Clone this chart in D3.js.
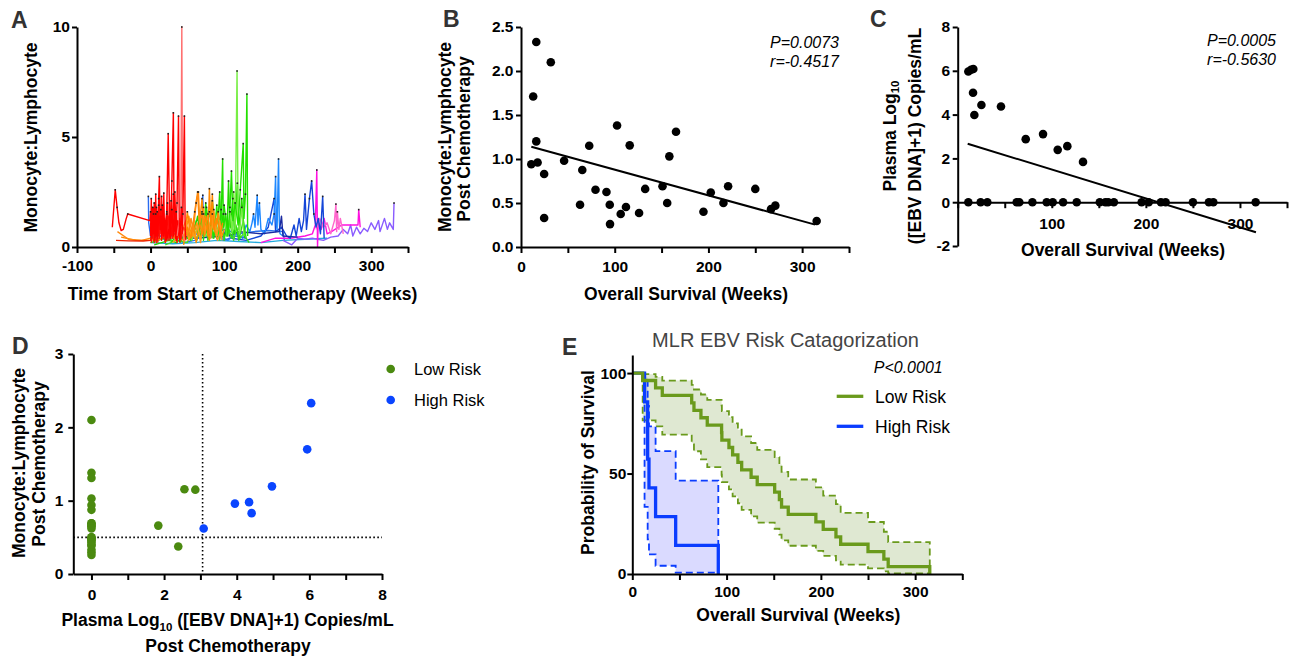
<!DOCTYPE html>
<html><head><meta charset="utf-8">
<script src="https://cdn.jsdelivr.net/npm/d3@7"></script>
<style>
body{margin:0;background:#fff;}
svg{font-family:"Liberation Sans",Arial,sans-serif;}
.ax .tick text{font-weight:bold;font-size:15.5px;fill:#000;}
.ax path.domain,.ax .tick line{stroke:#000;stroke-width:2;}
.ttl{font-weight:bold;font-size:17.5px;fill:#000;}
.lett{font-weight:bold;font-size:23px;fill:#333;}
.ann{font-style:italic;font-size:16px;fill:#000;}
</style></head><body>
<svg id="c" width="1291" height="657"></svg>
<script>
// ---------------- DATA ----------------
// Panel A: per-patient MLR trajectories [week, MLR]
const ptRedPre=[[-52,0.9],[-48,2.6],[-45.5,1.8],[-43,1.1],[-40,0.75],[-37,0.8],[-33,1.3],[-31,1.5],[-1,1.2],[0,1.6],[1,0.8]];
const ptRedLow=[[-47,0.3],[-30,0.28],[-10,0.27],[0,0.3],[3,0.9],[5,0.2],[8,1.3],[10,0.2]];
const ptRedA=[[0,0.5],[1,2.2],[2,0.4],[3,1.8],[4,0.6],[5,2.0],[6,0.3],[7,2.4],[8,0.5],[9,1.6],[10,0.4],[11,2.2],[12,3.2],[13,0.8],[14,1.4],[15,0.3],[16,1.9],[17,0.6],[18,2.45],[19,0.7],[20,1.2],[21,0.3],[22,1.5],[23,0.4]];
const ptRedB=[[0,1.1],[2,0.7],[4,1.5],[6,1.0],[8,1.8],[10,0.9],[12,1.4],[14,0.8],[16,1.1],[18,0.5],[20,0.9],[22,0.3],[25,0.8],[27,0.4],[29,1.7],[31,0.5],[33,2.5],[35,0.3],[37,1.2],[40,0.2]];
const ptRedC=[[18,0.6],[20,1.0],[22,1.6],[24,5.15],[26,1.0],[27,0.4],[29,3.0],[31,6.1],[32,1.0],[34,0.4],[36,2.0],[38,5.95],[39,1.0],[40,0.5],[42,1.8],[43,0.6],[44,1.5],[46,5.95],[47,0.8],[48,0.3]];
const ptRedD=[[1,0.2],[3,1.2],[5,0.5],[7,1.5],[9,0.3],[11,1.9],[13,0.6],[15,2.3],[17,0.4],[19,1.3],[21,0.7],[23,2.0],[25,0.3],[27,1.0],[29,0.5],[31,2.4],[33,0.8],[35,1.6],[37,0.5],[39,0.9],[41,0.3]];
const ptRedE=[[2,0.9],[4,0.3],[6,1.3],[8,0.2],[10,1.0],[12,0.4],[14,1.7],[16,0.5],[18,1.0],[20,0.2],[24,1.4],[26,0.6],[28,2.1],[30,0.4],[34,1.0],[36,0.2],[40,1.3],[42,0.4],[45,0.9]];
const ptSalmon=[[36,0.5],[39,1.2],[41,0.8],[42.5,10],[43.5,0.6],[46,0.3]];
const ptOrangeA=[[-45,0.7],[-30,0.35],[-12,0.3],[0,0.4],[10,0.3],[20,0.5],[30,0.4],[40,0.6],[45,0.9],[50,0.5],[55,1.3],[58,0.7],[62,2.0],[65,2.5],[67,1.1],[70,1.5],[74,0.6]];
const ptOrangeB=[[-40,0.45],[-20,0.3],[0,0.3],[15,0.4],[30,0.6],[45,0.3],[50,0.9],[55,0.4],[60,1.6],[64,2.5],[66,1.2],[70,0.6],[75,1.4],[78,0.5],[80,2.65],[82,1.0],[84,2.4],[86,0.8],[90,1.3],[95,0.6],[98,1.1]];
const ptOrangeC=[[30,0.2],[40,0.5],[48,1.2],[52,0.3],[56,0.8],[60,0.4],[64,1.0],[68,0.2],[72,1.8],[74,0.6],[78,1.5],[82,0.4],[86,1.7],[90,0.5],[94,1.2],[97,0.3]];
const ptOrangeD=[[45,0.1],[50,1.6],[54,0.6],[58,1.1],[62,0.2],[66,0.9],[70,2.2],[73,0.5],[76,1.0],[80,0.3],[84,1.5],[88,0.7],[92,1.6],[96,0.4],[100,0.8]];
const ptOrangeE=[[20,0.2],[28,0.8],[34,0.3],[40,1.0],[46,0.4],[52,1.4],[57,0.5],[63,1.1],[68,0.3],[74,1.3],[79,0.6],[85,1.0],[91,0.3],[97,0.9]];
const ptGreenA=[[0,0.2],[10,0.3],[20,0.4],[30,0.3],[40,0.6],[50,0.4],[60,1.0],[65,0.5],[70,1.6],[72,0.3],[75,2.0],[78,0.6],[82,1.2],[86,0.4],[90,1.9],[93,0.6],[96,1.3],[98,4.0],[99,0.9],[102,1.5],[105,0.5],[108,1.8],[110,3.45],[112,1.2],[115,2.0],[119,1.0],[122,2.6],[126,4.7],[127,1.3],[129,2.4],[131,6.95],[132,0.5]];
const ptLime=[[55,0.3],[65,0.9],[75,0.5],[85,1.1],[95,0.6],[100,1.3],[105,0.5],[108,1.6],[111,0.7],[113,2.5],[115,0.8],[117.6,8.0],[119,1.2],[121,0.6],[124,1.8],[127,0.5]];
const ptGreenB=[[5,0.1],[15,0.2],[25,0.3],[35,0.2],[45,0.5],[55,0.3],[60,0.8],[64,1.4],[68,0.4],[72,1.1],[76,1.8],[80,0.5],[84,2.1],[88,0.8],[92,1.4],[94,2.5],[96,0.6],[100,1.9],[104,0.7],[106,3.0],[108,0.9],[112,2.2],[114,0.6],[118,2.9],[120,0.8],[124,2.2],[128,0.4]];
const ptGreenC=[[40,0.2],[50,0.7],[56,0.3],[62,1.2],[66,0.5],[72,1.5],[78,0.3],[84,1.1],[90,0.4],[96,1.7],[100,0.3],[104,1.1],[110,0.4],[116,1.0],[120,0.3],[126,1.2],[130,0.4],[134,0.2]];
const ptGreenD=[[20,0.1],[35,0.3],[50,0.2],[58,0.9],[63,0.3],[68,1.3],[74,0.5],[80,1.6],[85,0.4],[89,1.0],[94,0.3],[99,1.5],[103,0.5],[107,1.2],[113,0.3],[117,0.9],[122,0.4],[128,0.7]];
const ptNavy=[[0,0.4],[6,1.0],[10,0.5],[15,1.1],[20,0.3],[30,0.6],[60,0.4],[100,0.5],[105,1.2],[107,0.5],[120,0.7],[150,0.6],[175,0.7],[178,1.4],[180,0.5],[200,0.45]];
const ptBlueEarly=[[-3,2.3],[-2.5,1.1],[0,0.5],[5,0.4],[10,0.6],[20,0.3],[30,0.4],[45,0.2],[60,0.3],[70,0.5],[71,2.35],[72,0.6],[80,0.4],[90,0.6],[100,0.3],[115,0.5],[130,0.4]];
const ptAzure=[[95,0.5],[105,0.3],[115,0.6],[125,0.4],[130,1.0],[135,0.7],[138,1.1],[140,1.5],[142,0.9],[145,2.35],[146,1.0],[148,2.0],[150,0.8],[155,0.6],[160,1.3],[165,1.0],[168,1.5],[170,3.2],[171,1.0],[172,0.8],[174,4.0],[175,1.2],[176,0.6],[180,0.5]];
const ptBlueB=[[110,0.4],[130,0.3],[150,0.5],[160,0.9],[168,2.2],[170,0.7],[178,0.9],[185,0.5],[190,0.4],[195,1.0],[198,0.5],[202,1.3],[205,0.7],[208,1.2],[210,2.4],[212,0.8],[216,2.2],[219,3.0],[222,1.5],[225,0.9],[228,1.3],[231,0.6],[234,2.3],[236,0.4]];
const ptBlueLow=[[0,0.7],[10,0.3],[20,0.5],[40,0.4],[60,0.6],[80,0.5],[100,0.8],[120,0.6],[140,0.7],[160,0.75],[180,0.7],[182,0.3]];
const ptTeal=[[0,0.2],[30,0.15],[60,0.2],[90,0.3],[120,0.25],[150,0.2],[180,0.3],[210,0.35],[240,0.4]];
const ptMagenta=[[150,0.2],[170,0.4],[190,0.4],[210,0.5],[220,0.6],[224,1.0],[226,3.5],[227,0.0],[228,1.2],[232,0.8],[236,1.3],[240,0.6],[246,0.7],[260,1.0],[270,1.0],[282,1.0],[283,1.7],[285,0.9]];
const ptPink=[[225,0.8],[230,1.3],[235,0.9],[240,1.1],[245,0.6],[250,1.2],[252,1.95],[253,0.7],[254,1.6],[256,0.8],[258,1.3],[262,0.6]];
const ptPurple=[[180,0.3],[192,0.1],[200,0.4],[210,0.35],[220,0.4],[235,0.3],[245,0.45],[255,0.5],[262,0.8],[268,0.6],[272,1.0],[275,0.5],[280,0.9],[285,0.6],[290,0.85],[295,0.7],[300,1.1],[305,0.8],[310,1.2],[312,0.7],[318,1.3],[322,0.8],[325,1.1],[330,0.8],[331,2.0]];

// Panel B: overall survival (weeks) vs post-chemo MLR
const bOS=[16.3,31.8,13,16.3,11,17.7,24.7,24.7,46,65.4,63,72.8,79.5,91.2,94.7,95,102.5,106.4,112,116,126,132.5,151,156,158.3,165.4,194.7,202.5,216,221,250,266.8,271.4,315.5];
const bMLR=[2.33,2.10,1.71,1.20,0.94,0.96,0.83,0.33,0.98,0.875,0.48,1.15,0.65,0.625,0.48,0.26,1.38,0.375,0.455,1.155,0.386,0.66,0.69,0.50,1.03,1.31,0.40,0.62,0.50,0.69,0.66,0.43,0.47,0.295];
const bFit=[[11,1.14],[313.8,0.254]];
const bStats=["P=0.0073","r=-0.4517"];

// Panel C: overall survival vs plasma log10 EBV DNA
const cOS=[11.3,14.2,16.6,16.3,17.7,25.2,46,72.3,90.7,106.3,116.5,133.2,11.3,24.4,31.5,62.7,65.5,79.4,94.6,101,112,126.5,151,157,160,166,195.5,203,216,221,250,267,271.7,316.7];
const cEBV=[5.97,6.05,6.08,5.0,3.98,4.44,4.37,2.88,3.11,2.39,2.56,1.84,0,0,0,0,0,0,0,0,0,0,0,0,0,0,0,0,0,0,0,0,0,0];
const cFit=[[10.6,2.67],[317,-1.37]];
const cStats=["P=0.0005","r=-0.5630"];

// Panel D: EBV vs MLR, by risk group
const dLowEBV=[0,0,0,0,0,0,0,0,0,0,0,0,0,0,0,0,0,0,0,0,0,0,1.84,2.39,2.56,2.86];
const dLowMLR=[2.1,1.38,1.31,1.03,0.94,0.875,0.69,0.69,0.66,0.65,0.62,0.50,0.50,0.48,0.47,0.455,0.43,0.40,0.386,0.33,0.295,0.26,0.66,0.375,1.155,1.15];
const dHighEBV=[3.09,3.95,4.34,4.41,4.97,5.94,6.05];
const dHighMLR=[0.62,0.96,0.98,0.83,1.195,1.70,2.33];
const dCuts={ebv:3.06,mlr:0.5};
const riskLabels=["Low Risk","High Risk"];

// Panel E: survival times (weeks) per group, all events
const eLowOS=[11,24.7,31.8,63,65.4,72.8,79.5,94.7,95,102.5,106.4,112,116,126,132.5,151,156,158.3,165.4,194.7,202.5,216,221,250,266.8,271.4,315.5];
const eHighOS=[13,16.3,16.3,17.7,24.7,46,91.2];
const eTitle="MLR EBV Risk Catagorization";
const eStat="P<0.0001";

// ---------------- STYLE ----------------
const aSeries=[ptTeal,ptBlueLow,ptPurple,ptMagenta,ptPink,ptBlueB,ptAzure,ptNavy,ptBlueEarly,ptGreenD,ptGreenC,ptGreenB,ptLime,ptGreenA,ptOrangeE,ptOrangeD,ptOrangeC,ptOrangeB,ptOrangeA,ptRedLow,ptRedPre,ptRedE,ptRedD,ptRedB,ptRedA,ptSalmon,ptRedC];
const aColors=["#22aadd","#2a70ee","#8a5cff","#ff10e0","#ff66cc","#1446d8","#1e88ff","#1a2aa0","#2a6cf0","#44e022","#33dd11","#22d400","#77ee44","#22e000","#ff9410","#ff8c00","#ff9a1a","#ff8800","#ff8a10","#ee2200","#ff0000","#ff1a00","#ff1010","#ff0000","#ff0000","#ff7070","#ff0000"];
const GREEN_PT="#4b8a10", BLUE_PT="#0a45ff", GREEN_LN="#6a9a1c", BLUE_LN="#0a3cff";

const svg=d3.select("#c");
const fmt0=d=>String(d);

function xAxis(scale,y,ticks,labels,fmt,pad){
  return svg.append("g").attr("class","ax").attr("transform",`translate(0,${y})`)
    .call(d3.axisBottom(scale).tickValues(ticks).tickSize(6).tickSizeOuter(0).tickPadding(pad)
      .tickFormat(d=>labels.includes(d)?fmt(d):""));
}
function yAxis(scale,x,ticks,fmt,pad){
  return svg.append("g").attr("class","ax").attr("transform",`translate(${x},0)`)
    .call(d3.axisLeft(scale).tickValues(ticks).tickSize(5).tickSizeOuter(0).tickPadding(pad).tickFormat(fmt));
}
function text(x,y,s,cls,anchor){
  return svg.append("text").attr("x",x).attr("y",y).attr("class",cls).attr("text-anchor",anchor||"middle").text(s);
}
function vtext(cx,cy,s,cls){
  return svg.append("text").attr("class",cls).attr("text-anchor","middle").attr("dominant-baseline","central")
    .attr("transform",`translate(${cx},${cy}) rotate(-90)`).text(s);
}
function logLabel(sel,pre,post){
  sel.append("tspan").text(pre+"Log");
  sel.append("tspan").attr("dy",5).attr("font-size","11.5px").text("10");
  sel.append("tspan").attr("dy",-5).text(post);
}

// ---------------- PANEL A ----------------
{
  const x=d3.scaleLinear().domain([-100,350]).range([77,408]);
  const y=d3.scaleLinear().domain([0,10]).range([247,27]);
  const line=d3.line().x(d=>x(d[0])).y(d=>y(d[1]));
  svg.append("g").selectAll("path").data(aSeries).join("path")
    .attr("d",line).attr("fill","none").attr("stroke",(d,i)=>aColors[i]).attr("stroke-width",1.4).attr("stroke-linejoin","round");
  const peaks=aSeries.flat().filter(d=>d[1]>=1.5);
  svg.append("g").selectAll("rect").data(peaks).join("rect")
    .attr("x",d=>x(d[0])-0.8).attr("y",d=>y(d[1])-0.8).attr("width",1.6).attr("height",1.6).attr("fill","#222");
  xAxis(x,247,d3.range(-100,351,50),[-100,0,100,200,300],fmt0,7);
  yAxis(y,77,[0,5,10],fmt0,2);
  text(11,28,"A","lett","start");
  vtext(31,137.5,"Monocyte:Lymphocyte","ttl");
  text(242.5,300,"Time from Start of Chemotherapy (Weeks)","ttl");
}

// ---------------- PANEL B ----------------
{
  const x=d3.scaleLinear().domain([0,350]).range([521,849]);
  const y=d3.scaleLinear().domain([0,2.5]).range([247,27]);
  xAxis(x,247,d3.range(0,351,50),[0,100,200,300],fmt0,8);
  yAxis(y,521,[0,0.5,1,1.5,2,2.5],d3.format(".1f"),2.5);
  svg.append("path").datum(bFit).attr("d",d3.line().x(d=>x(d[0])).y(d=>y(d[1])))
    .attr("stroke","#000").attr("stroke-width",2).attr("fill","none");
  svg.append("g").selectAll("circle").data(bOS).join("circle")
    .attr("cx",d=>x(d)).attr("cy",(d,i)=>y(bMLR[i])).attr("r",4.3).attr("fill","#000");
  text(443,27,"B","lett","start");
  vtext(445,137,"Monocyte:Lymphocyte","ttl");
  vtext(463.5,139,"Post Chemotherapy","ttl");
  text(686,300,"Overall Survival (Weeks)","ttl");
  text(839,48,bStats[0],"ann","end");
  text(839,67,bStats[1],"ann","end");
}

// ---------------- PANEL C ----------------
{
  const x=d3.scaleLinear().domain([0,350]).range([957.7,1287]);
  const y=d3.scaleLinear().domain([-2,8]).range([246,27]);
  xAxis(x,y(0),d3.range(0,351,50),[100,200,300],fmt0,10);
  yAxis(y,957.7,[-2,0,2,4,6,8],fmt0,2.5);
  svg.append("path").datum(cFit).attr("d",d3.line().x(d=>x(d[0])).y(d=>y(d[1])))
    .attr("stroke","#000").attr("stroke-width",2).attr("fill","none");
  svg.append("g").selectAll("circle").data(cOS).join("circle")
    .attr("cx",d=>x(d)).attr("cy",(d,i)=>y(cEBV[i])).attr("r",4.3).attr("fill","#000");
  text(870,27,"C","lett","start");
  const t1=svg.append("text").attr("class","ttl").attr("text-anchor","middle").attr("dominant-baseline","central")
    .attr("transform","translate(889.5,136) rotate(-90)");
  logLabel(t1,"Plasma ","");
  vtext(914.5,136,"([EBV DNA]+1) Copies/mL","ttl");
  text(1123,256,"Overall Survival (Weeks)","ttl");
  text(1276,46,cStats[0],"ann","end");
  text(1276,65,cStats[1],"ann","end");
}

// ---------------- PANEL D ----------------
{
  const x=d3.scaleLinear().domain([-0.5,8]).range([73.3,382]);
  const y=d3.scaleLinear().domain([0,3]).range([574,354]);
  xAxis(x,574,d3.range(0,9,1),[0,2,4,6,8],fmt0,9);
  yAxis(y,73.3,[0,1,2,3],fmt0,5);
  svg.append("line").attr("x1",x(dCuts.ebv)).attr("x2",x(dCuts.ebv)).attr("y1",y(3)).attr("y2",y(0))
    .attr("stroke","#000").attr("stroke-width",1.6).attr("stroke-dasharray","1.6,2.4");
  svg.append("line").attr("x1",x(-0.5)).attr("x2",x(8)).attr("y1",y(dCuts.mlr)).attr("y2",y(dCuts.mlr))
    .attr("stroke","#000").attr("stroke-width",1.6).attr("stroke-dasharray","1.6,2.4");
  svg.append("g").selectAll("circle").data(dLowEBV).join("circle")
    .attr("cx",d=>x(d)).attr("cy",(d,i)=>y(dLowMLR[i])).attr("r",4.3).attr("fill",GREEN_PT);
  svg.append("g").selectAll("circle").data(dHighEBV).join("circle")
    .attr("cx",d=>x(d)).attr("cy",(d,i)=>y(dHighMLR[i])).attr("r",4.3).attr("fill",BLUE_PT);
  [GREEN_PT,BLUE_PT].forEach((c,i)=>{
    svg.append("circle").attr("cx",390.7).attr("cy",369+i*31).attr("r",4.3).attr("fill",c);
    svg.append("text").attr("x",414).attr("y",375+i*31).attr("font-size","16.5px").text(riskLabels[i]);
  });
  text(12,354,"D","lett","start");
  vtext(18.5,463,"Monocyte:Lymphocyte","ttl");
  vtext(39,464,"Post Chemotherapy","ttl");
  const t=svg.append("text").attr("class","ttl").attr("text-anchor","middle").attr("x",227.5).attr("y",626);
  logLabel(t,"Plasma "," ([EBV DNA]+1) Copies/mL");
  text(228,652,"Post Chemotherapy","ttl");
}

// ---------------- PANEL E ----------------
function km(times){
  const t=times.slice().sort((a,b)=>a-b);
  let atRisk=t.length,S=1,G=0;
  const out=[{t:0,s:1,lo:1,hi:1}];
  for(const u of [...new Set(t)]){
    const d=t.filter(v=>v===u).length;
    S*=(atRisk-d)/atRisk;
    if(atRisk-d>0) G+=d/(atRisk*(atRisk-d));
    let lo=0,hi=0;
    if(S>0){const L=Math.log(S),th=Math.log(-L),se=Math.sqrt(G)/Math.abs(L);
      lo=Math.exp(-Math.exp(th+1.96*se)); hi=Math.exp(-Math.exp(th-1.96*se));}
    out.push({t:u,s:S,lo,hi});
    atRisk-=d;
  }
  return out;
}
{
  const x=d3.scaleLinear().domain([0,350]).range([632.3,962.3]);
  const y=d3.scaleLinear().domain([0,109]).range([574,355]);
  const low=km(eLowOS), high=km(eHighOS);
  const area=d3.area().curve(d3.curveStepAfter).x(d=>x(d.t)).y0(d=>y(100*d.lo)).y1(d=>y(100*d.hi));
  const mk=k=>d3.line().curve(d3.curveStepAfter).x(d=>x(d.t)).y(d=>y(100*d[k]));
  svg.append("path").datum(low).attr("d",area).attr("fill","rgba(110,150,50,0.22)");
  svg.append("path").datum(high).attr("fill","rgba(70,70,255,0.2)").attr("d",area);
  [[low,GREEN_LN],[high,BLUE_LN]].forEach(([s,c])=>{
    ["lo","hi"].forEach(k=>svg.append("path").datum(s).attr("d",mk(k)).attr("fill","none")
      .attr("stroke",c).attr("stroke-width",1.8).attr("stroke-dasharray","7,4"));
  });
  svg.append("path").datum(high).attr("d",mk("s")).attr("fill","none").attr("stroke",BLUE_LN).attr("stroke-width",3.3);
  svg.append("path").datum(low).attr("d",mk("s")).attr("fill","none").attr("stroke",GREEN_LN).attr("stroke-width",3.3);
  xAxis(x,574,d3.range(0,351,50),[0,100,200,300],fmt0,6);
  yAxis(y,632.3,[0,50,100],fmt0,1);
  text(562,355,"E","lett","start");
  svg.append("text").attr("x",785.5).attr("y",347).attr("text-anchor","middle").attr("font-size","20px").attr("fill","#444").text(eTitle);
  text(942.7,373,eStat,"ann","end");
  [GREEN_LN,BLUE_LN].forEach((c,i)=>{
    svg.append("line").attr("x1",836.7).attr("x2",863.3).attr("y1",396.3+i*30).attr("y2",396.3+i*30).attr("stroke",c).attr("stroke-width",3.3);
    svg.append("text").attr("x",875).attr("y",402.5+i*30).attr("font-size","17.5px").text(riskLabels[i]);
  });
  vtext(588.3,462.5,"Probability of Survival","ttl");
  text(798.3,621,"Overall Survival (Weeks)","ttl");
}
</script>
</body></html>
